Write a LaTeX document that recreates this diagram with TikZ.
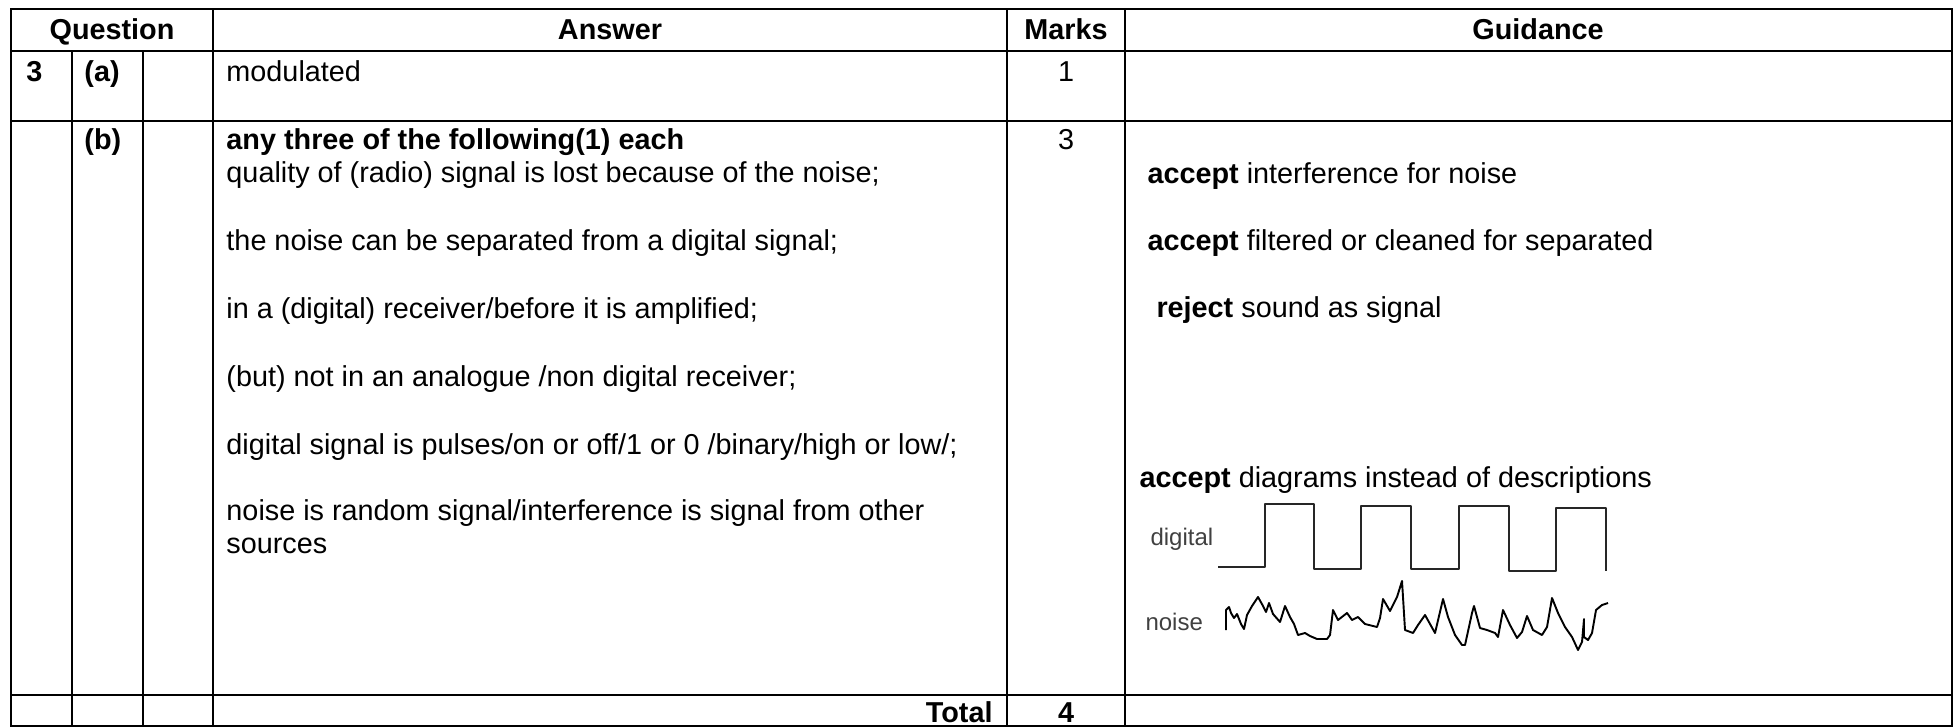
\documentclass[tikz,border=0pt]{standalone}
\usepackage{fontspec}
\setmainfont{Liberation Sans}
\usepackage{tikz}

\begin{document}
\begin{tikzpicture}[x=0.41667pt,y=0.41667pt]
\tikzstyle{every node}+=[inner sep=0pt]
\tikzset{tabline/.style={black,line width=0.8pt},
  celltext/.style={anchor=base west,font=\fontsize{12}{14}\selectfont},
  centred/.style={anchor=base,font=\fontsize{12}{14}\selectfont},
  rightcell/.style={anchor=base east,font=\fontsize{12}{14}\selectfont},
  wavelbl/.style={anchor=base west,text=black!75,font=\fontsize{10}{12}\selectfont},
  waveline/.style={black!85,line width=0.6pt,line join=round}}
\useasboundingbox (0,0) rectangle (1954,-727);
% table rules
\draw [tabline] (11,-9) rectangle (1952,-726);
\draw [tabline] (11,-51) -- (1952,-51);
\draw [tabline] (11,-121) -- (1952,-121);
\draw [tabline] (11,-695) -- (1952,-695);
\draw [tabline] (72,-51) -- (72,-726);
\draw [tabline] (143,-51) -- (143,-726);
\draw [tabline] (213,-9) -- (213,-726);
\draw [tabline] (1007,-9) -- (1007,-726);
\draw [tabline] (1125,-9) -- (1125,-726);
% header row
\node [centred] (hq) at (112,-39) {\bfseries Question};
\node [centred] (ha) at (610,-39) {\bfseries Answer};
\node [centred] (hm) at (1066,-39) {\bfseries Marks};
\node [centred] (hg) at (1538,-39) {\bfseries Guidance};
% part (a)
\node [celltext] (qn) at (26,-81) {\bfseries 3};
\node [celltext] (pa) at (84,-81) {\bfseries (a)};
\node [celltext] (ansa) at (226,-81) {modulated};
\node [centred] (mka) at (1066,-81) {1};
% part (b)
\node [celltext] (pb) at (84,-149) {\bfseries (b)};
\node [celltext] (ansb0) at (226,-149) {\bfseries any three of the following(1) each};
\node [celltext] (ansb1) at (226,-182) {quality of (radio) signal is lost because of the noise;};
\node [celltext] (ansb2) at (226,-250) {the noise can be separated from a digital signal;};
\node [celltext] (ansb3) at (226,-318) {in a (digital) receiver/before it is amplified;};
\node [celltext] (ansb4) at (226,-386) {(but) not in an analogue /non digital receiver;};
\node [celltext] (ansb5) at (226,-454) {digital signal is pulses/on or off/1 or 0 /binary/high or low/;};
\node [celltext] (ansb6) at (226,-520) {noise is random signal/interference is signal from other};
\node [celltext] (ansb7) at (226,-553) {sources};
\node [centred] (mkb) at (1066,-149) {3};
\node [celltext] (gd1) at (1147,-183) {\textbf{accept} interference for noise};
\node [celltext] (gd2) at (1147,-250) {\textbf{accept} filtered or cleaned for separated};
\node [celltext] (gd3) at (1156,-317) {\textbf{reject} sound as signal};
\node [celltext] (gd4) at (1139,-487) {\textbf{accept} diagrams instead of descriptions};
% sketch of the two signals
\node [wavelbl] (lbldig) at (1150,-545) {digital};
\node [wavelbl] (lblnoise) at (1145,-630) {noise};
\draw [waveline] (1218,-567) -- (1265,-567) -- (1265,-504) -- (1314,-504) -- (1314,-569)
  -- (1361,-569) -- (1361,-506) -- (1411,-506) -- (1411,-569) -- (1459,-569) -- (1459,-506)
  -- (1509,-506) -- (1509,-571) -- (1556,-571) -- (1556,-508) -- (1606,-508) -- (1606,-571);
\draw [waveline,black,line width=0.8pt] (1226,-630) -- (1226,-610) -- (1229,-607) -- (1231,-613)
  -- (1234,-618) -- (1237,-614) -- (1241,-624) -- (1244,-629) -- (1247,-615) -- (1252,-606)
  -- (1258,-597) -- (1263,-606) -- (1266,-612) -- (1269,-603) -- (1273,-614) -- (1280,-622)
  -- (1285,-606) -- (1290,-617) -- (1294,-624) -- (1298,-635) -- (1305,-633) -- (1310,-636)
  -- (1317,-639) -- (1327,-639) -- (1330,-635) -- (1333,-610) -- (1338,-620) -- (1347,-613)
  -- (1352,-620) -- (1358,-617) -- (1365,-624) -- (1377,-627) -- (1380,-618) -- (1383,-599)
  -- (1390,-611) -- (1397,-597) -- (1402,-581) -- (1405,-630) -- (1413,-633) -- (1418,-625)
  -- (1425,-615) -- (1435,-633) -- (1443,-599) -- (1448,-617) -- (1455,-635) -- (1462,-645)
  -- (1465,-645) -- (1472,-613) -- (1474,-606) -- (1480,-628) -- (1487,-630) -- (1495,-633)
  -- (1498,-637) -- (1503,-610) -- (1510,-625) -- (1517,-638) -- (1522,-632) -- (1527,-616)
  -- (1533,-630) -- (1542,-635) -- (1547,-627) -- (1552,-598) -- (1558,-613) -- (1565,-627)
  -- (1572,-637) -- (1578,-650) -- (1582,-642) -- (1584,-619) -- (1584,-637) -- (1588,-640)
  -- (1592,-633) -- (1596,-610) -- (1602,-605) -- (1608,-603);
% total row
\node [rightcell] (tot) at (993,-722) {\bfseries Total};
\node [centred] (mktot) at (1066,-722) {\bfseries 4};
\end{tikzpicture}
\end{document}
